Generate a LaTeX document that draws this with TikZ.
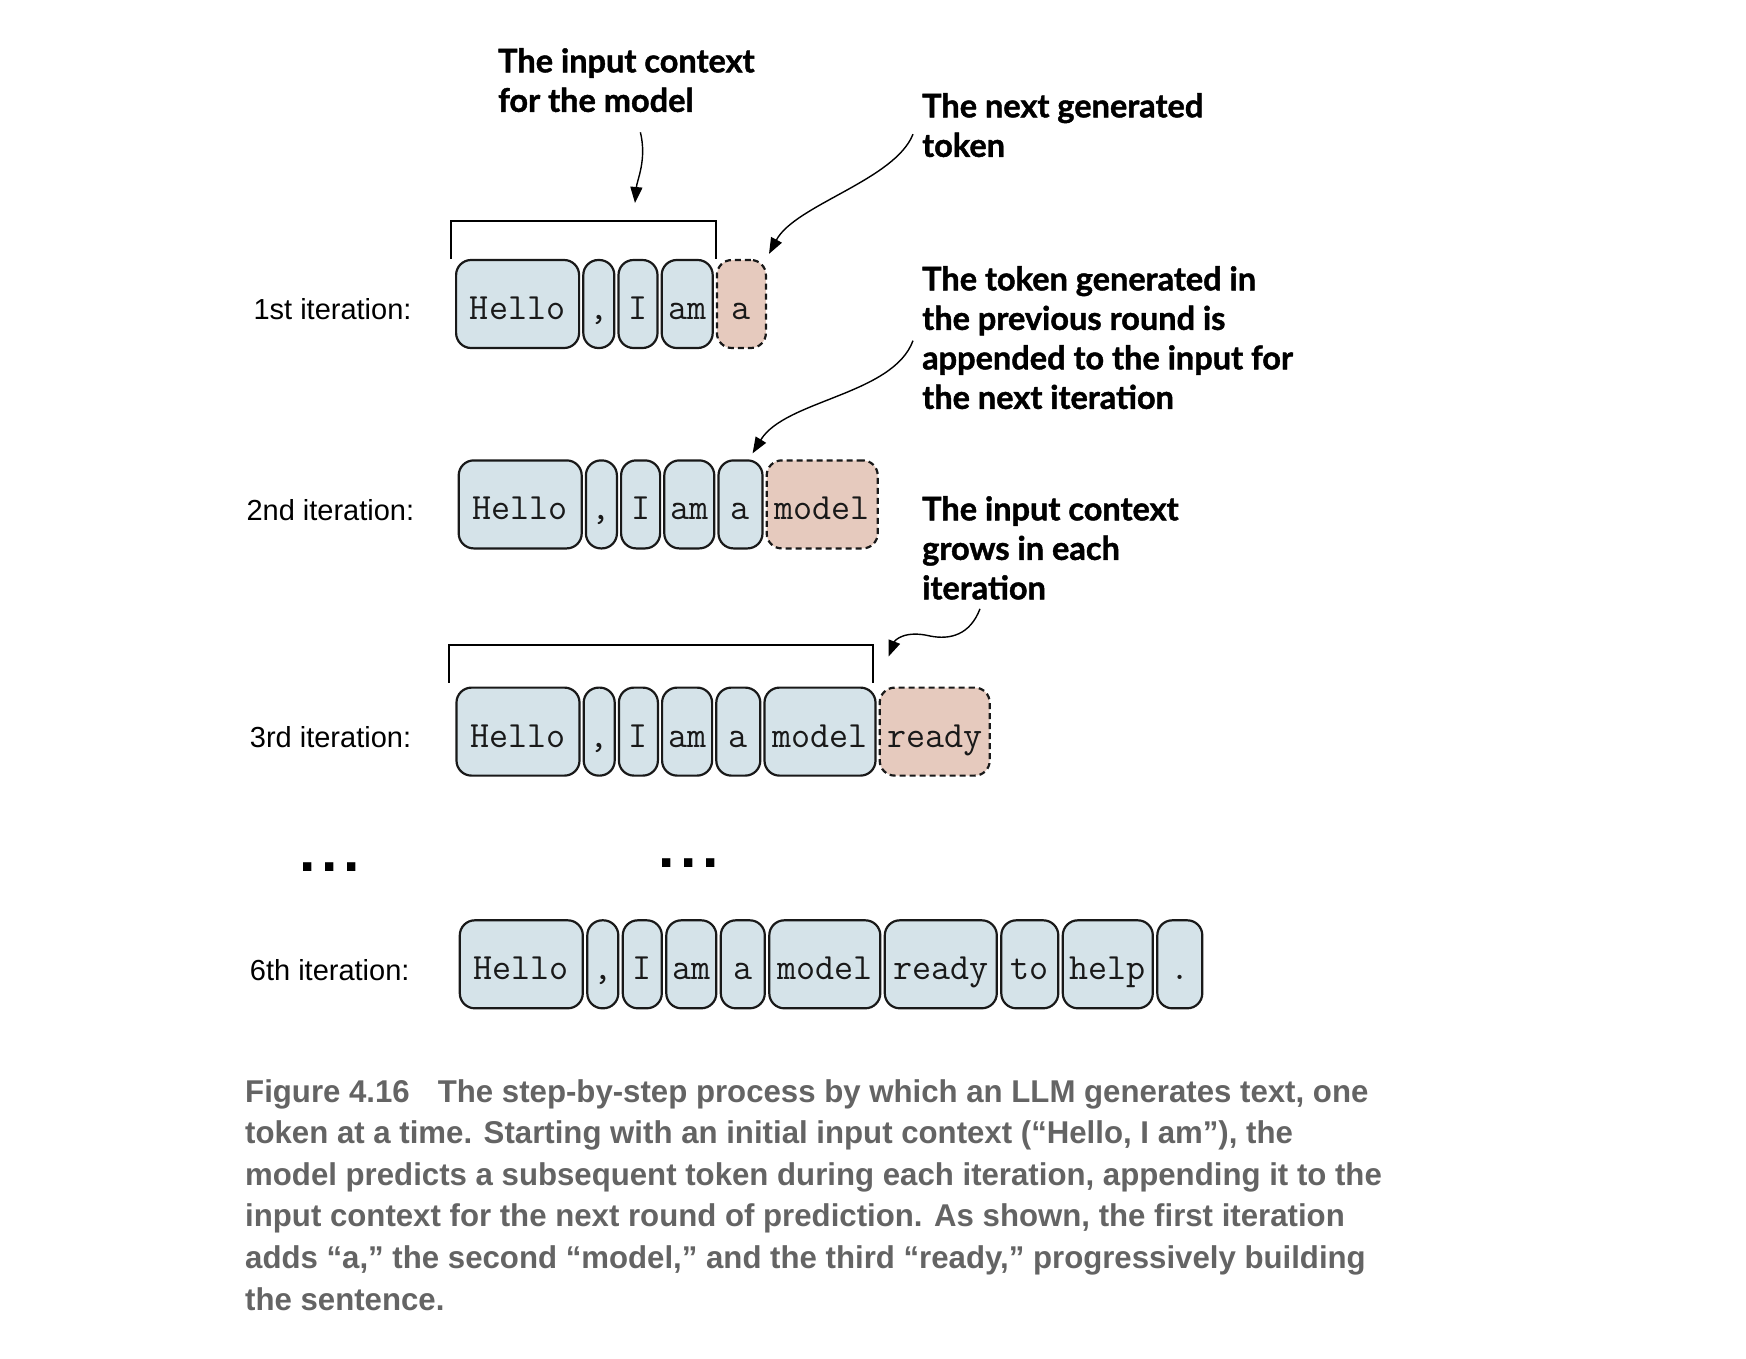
\documentclass[tikz,border=0pt]{standalone}
\usepackage{fontspec}
\setmainfont{Liberation Sans}
\newfontfamily\tokfont{Latin Modern Mono}
\newfontfamily\notefont[BoldFeatures={FakeBold=1.3}]{Lato}
\newfontfamily\capfont[FakeStretch=0.99]{Liberation Sans}
\usetikzlibrary{arrows.meta,positioning}

\definecolor{tokblue}{RGB}{213,227,233}
\definecolor{tokpink}{RGB}{230,202,190}
\definecolor{capgray}{RGB}{100,100,100}

\tikzset{
  tok/.style={draw=black!90, line width=2.2pt, rounded corners=15pt, fill=tokblue,
    minimum height=88pt, inner sep=0pt, text height=33pt, text depth=2pt,
    font=\tokfont\fontsize{37}{37}\selectfont, text=black!90},
  newtok/.style={tok, fill=tokpink, dash pattern=on 6pt off 4pt},
  iter/.style={anchor=base west, font=\fontsize{29}{30}\selectfont},
  note/.style={anchor=north west, inner sep=0pt, align=left,
    font=\notefont\bfseries\fontsize{32.5}{39.5}\selectfont},
  notearrow/.style={line width=1.4pt, -{Triangle[length=16pt,width=12pt]}},
  bracket/.style={line width=2pt},
  dots/.style={anchor=base, inner sep=0pt, font=\bfseries\fontsize{59}{59}\selectfont},
  caption/.style={anchor=north west, inner sep=0pt, align=left, text=capgray,
    font=\capfont\bfseries\fontsize{31.5}{41.6}\selectfont}
}

\begin{document}
\begin{tikzpicture}[x=1pt, y=-1pt]
\useasboundingbox (0,0) rectangle (1746,1358);

% 1st iteration
\node[iter] (lab1) at (250,319.5) {1st iteration:};
\node[tok, minimum width=123pt, anchor=west] (r1-1) at (455,304) {Hello};
\node[tok, minimum width=31pt, right=2pt of r1-1] (r1-2) {,};
\node[tok, minimum width=39pt, right=2pt of r1-2] (r1-3) {I};
\node[tok, minimum width=51pt, right=2pt of r1-3] (r1-4) {am};
\node[newtok, minimum width=49pt, right=2pt of r1-4] (r1-5) {a};

% 2nd iteration
\node[iter] (lab2) at (243,520) {2nd iteration:};
\node[tok, minimum width=123pt, anchor=west] (r2-1) at (457.6,504.4) {Hello};
\node[tok, minimum width=31pt, right=2pt of r2-1] (r2-2) {,};
\node[tok, minimum width=39pt, right=2pt of r2-2] (r2-3) {I};
\node[tok, minimum width=50pt, right=2pt of r2-3] (r2-4) {am};
\node[tok, minimum width=44pt, right=2pt of r2-4] (r2-5) {a};
\node[newtok, minimum width=111pt, right=2pt of r2-5] (r2-6) {model};

% 3rd iteration
\node[iter] (lab3) at (246.4,747) {3rd iteration:};
\node[tok, minimum width=123pt, anchor=west] (r3-1) at (455.4,731.6) {Hello};
\node[tok, minimum width=31pt, right=2pt of r3-1] (r3-2) {,};
\node[tok, minimum width=39pt, right=2pt of r3-2] (r3-3) {I};
\node[tok, minimum width=50pt, right=2pt of r3-3] (r3-4) {am};
\node[tok, minimum width=44pt, right=2pt of r3-4] (r3-5) {a};
\node[tok, minimum width=111pt, right=2pt of r3-5] (r3-6) {model};
\node[newtok, minimum width=110pt, right=2pt of r3-6] (r3-7) {ready};

% dots
\node[dots] (dots1) at (330,871) {.\kern5.6pt.\kern5.6pt.};
\node[dots] (dots2) at (689,867.5) {.\kern5.6pt.\kern5.6pt.};

% 6th iteration
\node[iter] (lab6) at (246.4,980) {6th iteration:};
\node[tok, minimum width=123pt, anchor=west] (r6-1) at (458.7,964.3) {Hello};
\node[tok, minimum width=31pt, right=2.3pt of r6-1] (r6-2) {,};
\node[tok, minimum width=39pt, right=2.3pt of r6-2] (r6-3) {I};
\node[tok, minimum width=50pt, right=2.3pt of r6-3] (r6-4) {am};
\node[tok, minimum width=44pt, right=2.3pt of r6-4] (r6-5) {a};
\node[tok, minimum width=111pt, right=2.3pt of r6-5] (r6-6) {model};
\node[tok, minimum width=112pt, right=2.3pt of r6-6] (r6-7) {ready};
\node[tok, minimum width=57pt, right=2.3pt of r6-7] (r6-8) {to};
\node[tok, minimum width=90pt, right=2.3pt of r6-8] (r6-9) {help};
\node[tok, minimum width=45pt, right=2.3pt of r6-9] (r6-10) {.};

% brackets over the input context
\draw[bracket] ([xshift=-4pt]r1-1.north west) -- ++(0,-38) -| ([xshift=2pt]r1-4.north east);
\draw[bracket] ([xshift=-6pt,yshift=4pt]r3-1.north west) -- ++(0,-38) -| ([xshift=-4pt,yshift=4pt]r3-6.north east);

% annotations
\node[note] (ctx) at (498,48) {The input context\\for the model};
\node[note] (nexttok) at (922,93) {The next generated\\token};
\node[note] (prevtok) at (922,266) {The token generated in\\the previous round is\\appended to the input for\\the next iteration};
\node[note] (grows) at (922,496) {The input context\\grows in each\\iteration};

\coordinate (tip1) at (635,203);
\coordinate (tip2) at ([xshift=2pt,yshift=5pt]r1-5.north east);
\coordinate (tip3) at ([xshift=-11pt,yshift=6pt]r2-5.north east);
\coordinate (tip4) at ([xshift=10pt,yshift=30pt]r3-7.north west);

\draw[notearrow] ([xshift=14pt,yshift=-20pt]ctx.south) .. controls (647,160) and (637,180) .. (tip1);
\draw[notearrow] ([xshift=-9pt,yshift=-9pt]nexttok.west) .. controls (895,180) and (795,205) .. (tip2);
\draw[notearrow] ([xshift=-9pt,yshift=-3pt]prevtok.west) .. controls (893,395) and (785,400) .. (tip3);
\draw[notearrow] ([xshift=58pt,yshift=-9pt]grows.south west) .. controls (970,635) and (950,640) .. (930,636)
  .. controls (905,630) and (895,640) .. (tip4);

% caption
\node[caption] (cap) at (245,1079) {Figure 4.16\hspace{28pt}The step-by-step process by which an LLM generates text, one\\
token at a time. Starting with an initial input context (“Hello, I am”), the\\
model predicts a subsequent token during each iteration, appending it to the\\
input context for the next round of prediction. As shown, the first iteration\\
adds “a,” the second “model,” and the third “ready,” progressively building\\
the sentence.};

\end{tikzpicture}
\end{document}
